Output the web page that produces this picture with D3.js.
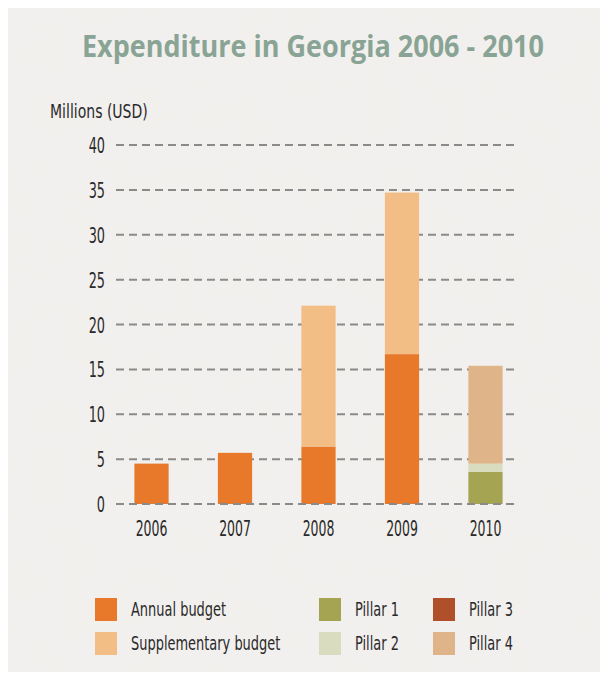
<!DOCTYPE html>
<html><head><meta charset="utf-8">
<script src="https://cdn.jsdelivr.net/npm/d3@7/dist/d3.min.js"></script>
<style>
html,body{margin:0;padding:0;background:#fff;}
svg{display:block;}
</style></head>
<body>
<svg id="chart" width="608" height="682"></svg>
<script>
const years = ["2006","2007","2008","2009","2010"];
const annual = [4.5, 5.7, 6.4, 16.7, 0];
const supplementary = [0, 0, 15.7, 18.0, 0];
const pillar1 = [0, 0, 0, 0, 3.6];
const pillar2 = [0, 0, 0, 0, 0.9];
const pillar3 = [0, 0, 0, 0, 0];
const pillar4 = [0, 0, 0, 0, 10.9];
const yTicks = [0, 5, 10, 15, 20, 25, 30, 35, 40];
const seriesNames = ["Annual budget","Supplementary budget","Pillar 1","Pillar 2","Pillar 3","Pillar 4"];
const seriesColors = ["#e8782a","#f3bd86","#a4a452","#d9dcbf","#b0502a","#deb488"];

const rows = years.map((y,i)=>({year:y,
  "Annual budget":annual[i],"Supplementary budget":supplementary[i],
  "Pillar 1":pillar1[i],"Pillar 2":pillar2[i],"Pillar 3":pillar3[i],"Pillar 4":pillar4[i]}));

const svg = d3.select("#chart");
const font = "'DejaVu Sans Condensed','DejaVu Sans',sans-serif";

function condense(sel, k){
  sel.each(function(){
    const w = this.getComputedTextLength();
    d3.select(this).attr("textLength", w*k).attr("lengthAdjust","spacingAndGlyphs");
  });
}

// paper background
const defs = svg.append("defs");
const f = defs.append("filter").attr("id","paper").attr("x",0).attr("y",0).attr("width","100%").attr("height","100%");
f.append("feTurbulence").attr("type","fractalNoise").attr("baseFrequency","0.03").attr("numOctaves",4).attr("seed",5).attr("result","n");
f.append("feColorMatrix").attr("in","n").attr("type","matrix")
 .attr("values","0 0 0 0 0.88  0 0 0 0 0.875  0 0 0 0 0.865  0 0 0 -1.2 0.85").attr("result","c");
f.append("feComposite").attr("in","c").attr("in2","SourceGraphic").attr("operator","over");
svg.append("rect").attr("x",8).attr("y",8).attr("width",592).attr("height",664).attr("fill","#f2f0ed");
svg.append("rect").attr("x",8).attr("y",8).attr("width",592).attr("height",664).attr("fill","#f2f0ed").attr("filter","url(#paper)");

// title
svg.append("text").attr("x",313).attr("y",57).attr("text-anchor","middle")
  .attr("font-family","'Open Sans','Noto Sans',sans-serif").attr("font-weight",700)
  .attr("font-size",30).attr("fill","#89a494")
  .attr("textLength",462).attr("lengthAdjust","spacingAndGlyphs")
  .text("Expenditure in Georgia 2006 - 2010");

svg.append("text").attr("x",50).attr("y",118)
  .attr("font-family",font).attr("font-size",19).attr("fill","#2a2a2a")
  .text("Millions (USD)").call(condense,0.82);

const y = d3.scaleLinear().domain([0,40]).range([504,145]);
const x = d3.scaleBand().domain(years).range([101,536]).paddingInner(0.59).paddingOuter(0.4);

// grid
const gridG = svg.append("g");
gridG.selectAll("line").data(yTicks.filter(t=>t>0)).join("line")
  .attr("x1",116).attr("x2",519).attr("y1",d=>y(d)).attr("y2",d=>y(d))
  .attr("stroke","#8a8a8a").attr("stroke-width",2).attr("stroke-dasharray","8,5");

// y axis labels
const yAxis = d3.axisLeft(y).tickValues(yTicks).tickSize(0).tickPadding(0);
const ya = svg.append("g").attr("transform","translate(105,0)").call(yAxis);
ya.select(".domain").remove();
ya.selectAll("text").attr("font-family",font).attr("font-size",21).attr("fill","#2a2a2a").attr("dy","0.36em")
  .call(condense,0.68);

// stacked bars
const stack = d3.stack().keys(seriesNames)(rows);
const color = d3.scaleOrdinal().domain(seriesNames).range(seriesColors);
svg.append("g").selectAll("g").data(stack).join("g").attr("fill",d=>color(d.key))
  .selectAll("rect").data(d=>d).join("rect")
  .attr("x",d=>x(d.data.year)).attr("width",x.bandwidth())
  .attr("y",d=>y(d[1])).attr("height",d=>Math.max(0,y(d[0])-y(d[1])));

// zero line on top
svg.append("line").attr("x1",116).attr("x2",519).attr("y1",y(0)).attr("y2",y(0))
  .attr("stroke","#8a8a8a").attr("stroke-width",2).attr("stroke-dasharray","8,5");

// x axis labels
const xAxis = d3.axisBottom(x).tickSize(0).tickPadding(0);
const xa = svg.append("g").attr("transform","translate(0,536)").call(xAxis);
xa.select(".domain").remove();
xa.selectAll("text").attr("font-family",font).attr("font-size",21).attr("fill","#2a2a2a").attr("dy",0)
  .call(condense,0.66);

// legend
const legendPos = [[95,598],[95,632],[319,598],[319,632],[433,598],[433,632]];
const lg = svg.append("g").selectAll("g").data(seriesNames).join("g")
  .attr("transform",(d,i)=>`translate(${legendPos[i][0]},${legendPos[i][1]})`);
lg.append("rect").attr("width",22).attr("height",23).attr("fill",d=>color(d));
lg.append("text").attr("x",36).attr("y",18).attr("font-family",font).attr("font-size",20)
  .attr("fill","#2a2a2a").text(d=>d).call(condense,0.72);
</script>
</body></html>
